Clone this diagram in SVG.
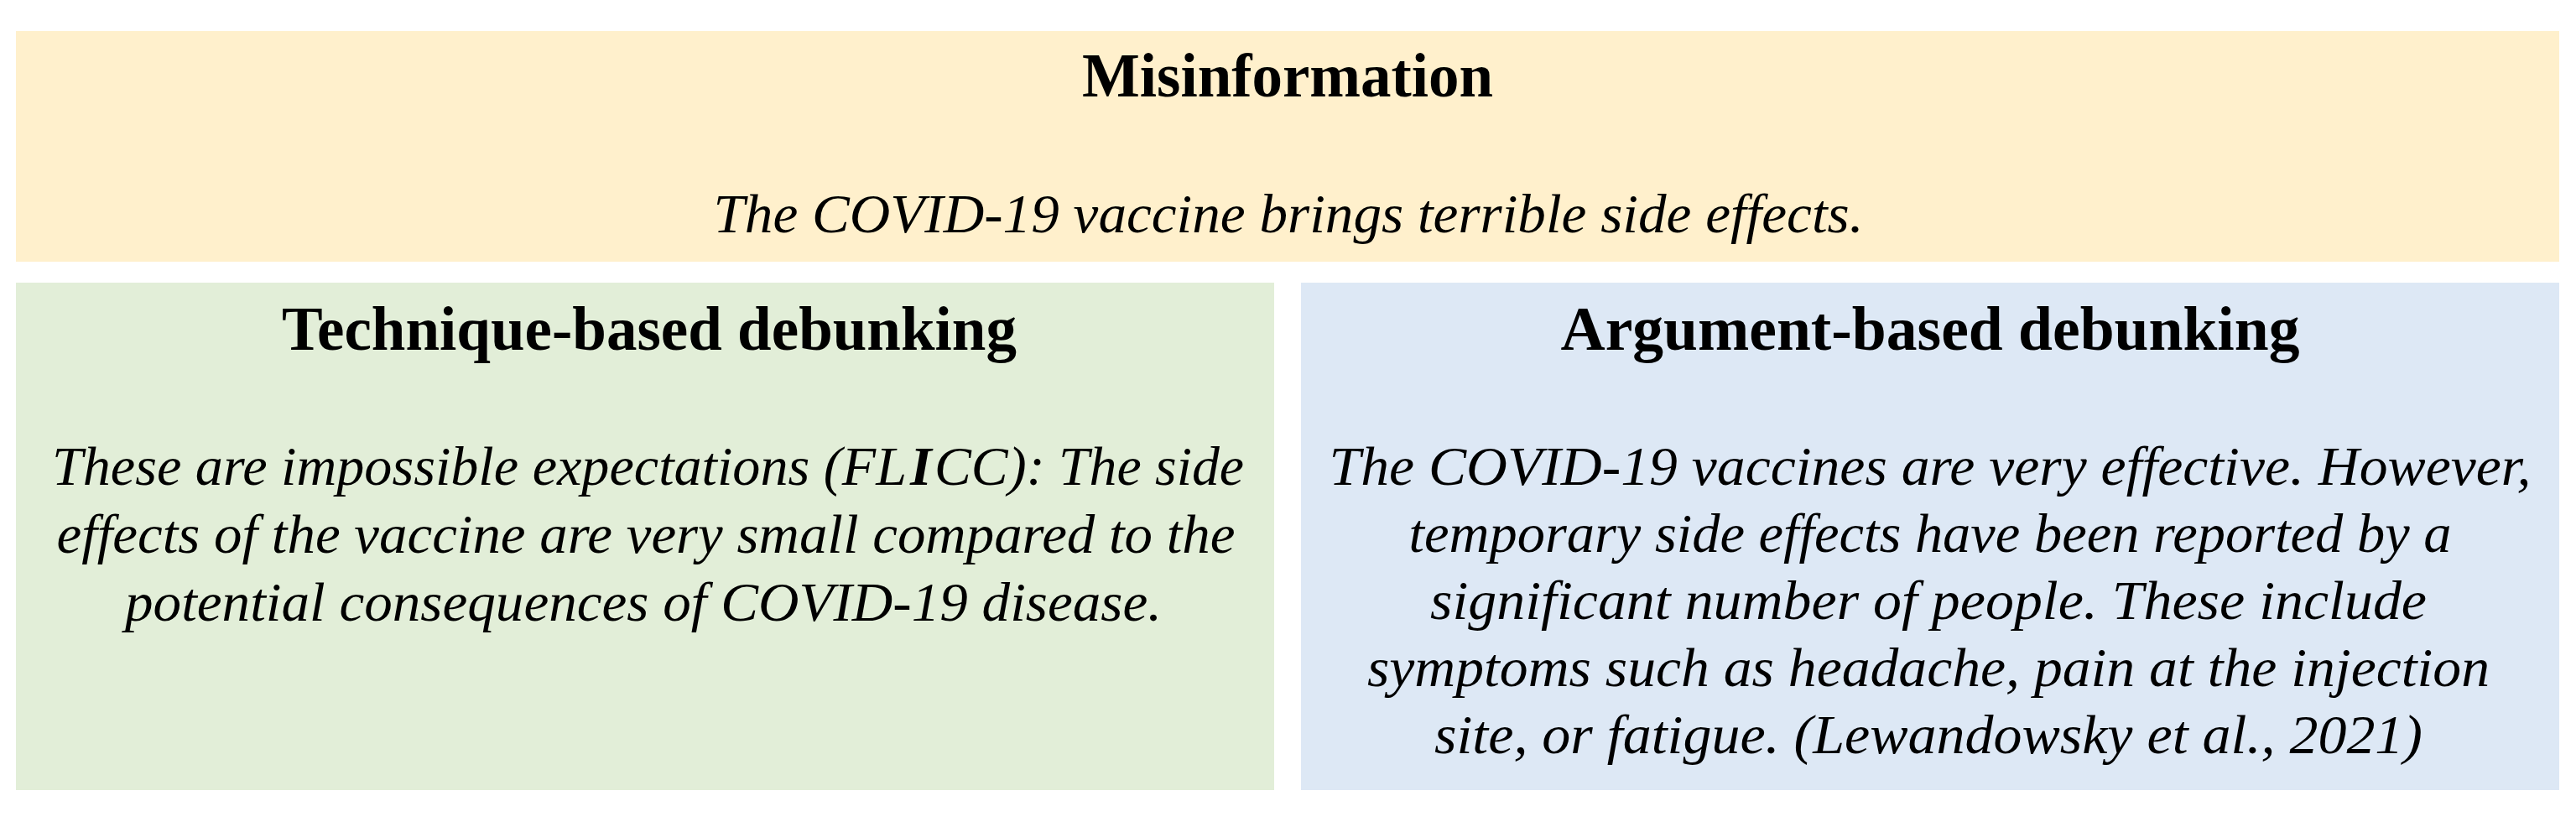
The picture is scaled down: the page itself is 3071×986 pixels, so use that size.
<svg xmlns="http://www.w3.org/2000/svg" width="3071" height="986" viewBox="0 0 3071 986">
<style>
.head{font-family:"Liberation Serif","Times New Roman",serif;font-weight:bold;font-size:74px;fill:#000;text-anchor:middle}
.body{font-family:"Liberation Serif","Times New Roman",serif;font-style:italic;font-size:66px;fill:#000;text-anchor:middle}
.start{text-anchor:start}
</style>
<rect width="3071" height="986" fill="#ffffff"/>
<g id="misinformation">
<rect x="19" y="37" width="3032" height="275" fill="#FFF0CC"/>
<text class="head" x="1535" y="115" textLength="490" lengthAdjust="spacingAndGlyphs">Misinformation</text>
<text class="body" x="1536" y="277" textLength="1371" lengthAdjust="spacingAndGlyphs">The COVID-19 vaccine brings terrible side effects.</text>
</g>
<g id="technique">
<rect x="19" y="337" width="1500" height="605" fill="#E2EED8"/>
<text class="head" x="774" y="417" textLength="876" lengthAdjust="spacingAndGlyphs">Technique-based debunking</text>
<text class="body start" x="62" y="578" textLength="1019" lengthAdjust="spacingAndGlyphs">These are impossible expectations (FL</text>
<text class="body start" x="1085" y="578" font-weight="bold" font-style="normal">I</text>
<text class="body start" x="1114" y="578" textLength="369" lengthAdjust="spacingAndGlyphs">CC): The side</text>
<text class="body" x="770" y="659" textLength="1405" lengthAdjust="spacingAndGlyphs">effects of the vaccine are very small compared to the</text>
<text class="body" x="767" y="740" textLength="1236" lengthAdjust="spacingAndGlyphs">potential consequences of COVID-19 disease.</text>
</g>
<g id="argument">
<rect x="1551" y="337" width="1500" height="605" fill="#DDE8F5"/>
<text class="head" x="2301" y="417" textLength="881" lengthAdjust="spacingAndGlyphs">Argument-based debunking</text>
<text class="body" x="2301" y="578" textLength="1433" lengthAdjust="spacingAndGlyphs">The COVID-19 vaccines are very effective. However,</text>
<text class="body" x="2301" y="658" textLength="1243" lengthAdjust="spacingAndGlyphs">temporary side effects have been reported by a</text>
<text class="body" x="2299" y="738" textLength="1188" lengthAdjust="spacingAndGlyphs">significant number of people. These include</text>
<text class="body" x="2299" y="818" textLength="1338" lengthAdjust="spacingAndGlyphs">symptoms such as headache, pain at the injection</text>
<text class="body" x="2299" y="898" textLength="1178" lengthAdjust="spacingAndGlyphs">site, or fatigue. (Lewandowsky et al., 2021)</text>
</g>
<g id="connectors"></g>
</svg>
